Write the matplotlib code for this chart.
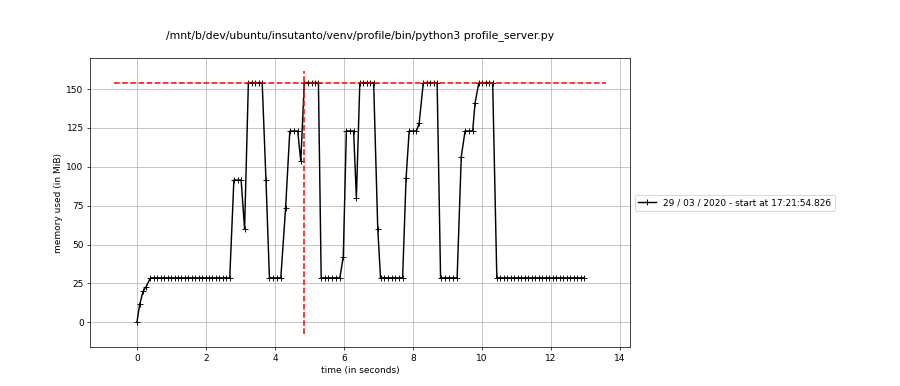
import matplotlib
matplotlib.use("Agg")
import matplotlib.pyplot as plt

title = "/mnt/b/dev/ubuntu/insutanto/venv/profile/bin/python3 profile_server.py"
series_label = "29 / 03 / 2020 - start at 17:21:54.826"

times = [
    0.00, 0.08, 0.18, 0.27, 0.39,
    0.49, 0.59, 0.69, 0.79, 0.89, 0.99, 1.09, 1.19, 1.29, 1.39, 1.49, 1.59,
    1.69, 1.79, 1.89, 1.99, 2.09, 2.19, 2.29, 2.39, 2.49, 2.59, 2.69,
    2.81, 2.92, 3.02, 3.12,
    3.23, 3.33, 3.43, 3.53, 3.63,
    3.74, 3.84, 3.95, 4.06, 4.17,
    4.31, 4.43, 4.55, 4.66, 4.75,
    4.85, 4.95, 5.06, 5.16, 5.26,
    5.34, 5.45, 5.55, 5.66, 5.77, 5.88,
    5.98, 6.07, 6.17, 6.28, 6.36,
    6.46, 6.56, 6.66, 6.76, 6.86,
    6.98, 7.06, 7.17, 7.27, 7.38, 7.48, 7.59, 7.70,
    7.80, 7.89, 7.99, 8.10, 8.18,
    8.30, 8.40, 8.50, 8.60, 8.70,
    8.80, 8.92, 9.04, 9.16, 9.28,
    9.40, 9.51, 9.62, 9.73, 9.80,
    9.91, 10.01, 10.11, 10.21, 10.31,
    10.43, 10.53, 10.63, 10.73, 10.84, 10.94, 11.04, 11.14, 11.24, 11.34,
    11.44, 11.55, 11.65, 11.75, 11.85, 11.95, 12.05, 12.15, 12.26, 12.36,
    12.46, 12.56, 12.66, 12.76, 12.86, 12.96,
]

memory = [
    0.0, 11.6, 20.0, 23.0, 28.6,
    28.6, 28.6, 28.6, 28.6, 28.6, 28.6, 28.6, 28.6, 28.6, 28.6, 28.6, 28.6,
    28.6, 28.6, 28.6, 28.6, 28.6, 28.6, 28.6, 28.6, 28.6, 28.6, 28.6,
    91.5, 91.5, 91.5, 60.0,
    154.1, 154.1, 154.1, 154.1, 154.1,
    91.5, 28.6, 28.6, 28.6, 28.6,
    73.8, 123.0, 123.0, 123.0, 103.5,
    154.1, 154.1, 154.1, 154.1, 154.1,
    28.6, 28.6, 28.6, 28.6, 28.6, 28.6,
    42.0, 123.0, 123.0, 123.0, 80.0,
    154.1, 154.1, 154.1, 154.1, 154.1,
    60.0, 28.6, 28.6, 28.6, 28.6, 28.6, 28.6, 28.6,
    92.5, 123.0, 123.0, 123.0, 128.0,
    154.1, 154.1, 154.1, 154.1, 154.1,
    28.6, 28.6, 28.6, 28.6, 28.6,
    106.5, 123.0, 123.0, 123.0, 141.0,
    154.1, 154.1, 154.1, 154.1, 154.1,
    28.6, 28.6, 28.6, 28.6, 28.6, 28.6, 28.6, 28.6, 28.6, 28.6,
    28.6, 28.6, 28.6, 28.6, 28.6, 28.6, 28.6, 28.6, 28.6, 28.6,
    28.6, 28.6, 28.6, 28.6, 28.6, 28.6,
]

max_mem = 154.1
max_time = 4.85

DPI = 65
fig = plt.figure(figsize=(900 / DPI, 386 / DPI), dpi=DPI)
ax = fig.add_axes([0.1, 0.1, 0.6, 0.75])
ax.plot(times, memory, "+-", color="black", lw=1.6, label=series_label)
ax.hlines(max_mem, -0.65, 13.6, colors="r", linestyles="--", linewidth=1.7)
ax.vlines(max_time, -7.7, 161.8, colors="r", linestyles="--", linewidth=1.7)
ax.set_xlim(-1.36, 14.29)
ax.set_ylim(-16.1, 170.0)
ax.set_xticks([0, 2, 4, 6, 8, 10, 12, 14])
ax.set_yticks([0, 25, 50, 75, 100, 125, 150])
ax.grid(True)
ax.set_xlabel("time (in seconds)")
ax.set_ylabel("memory used (in MiB)")
ax.set_title(title, pad=22)
ax.legend(loc="center left", bbox_to_anchor=(1.0, 0.5))
fig.savefig("out.png", dpi=DPI)
